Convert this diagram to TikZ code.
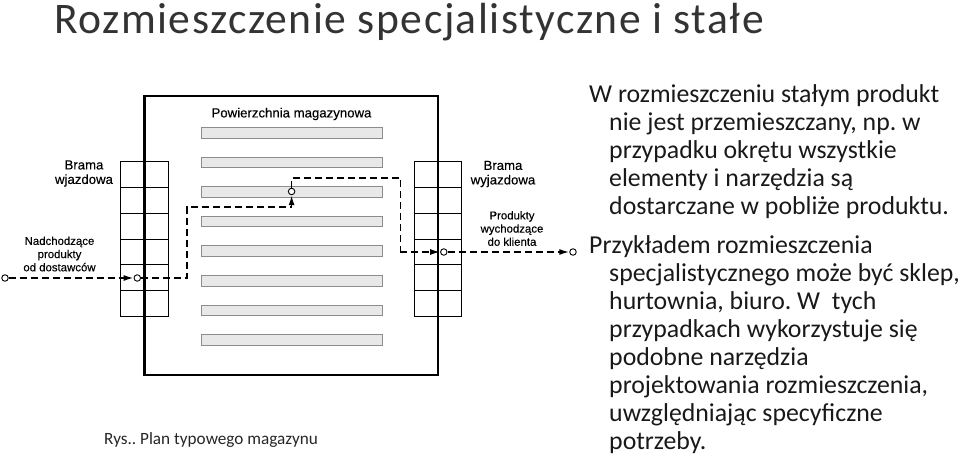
\documentclass[tikz,border=0pt]{standalone}
\usepackage{fontspec}
\setmainfont{Carlito}
\newfontfamily\labelfont[FakeBold=0.25]{Liberation Sans}
\newfontfamily\titlefont[LetterSpace=3.45]{Carlito}
\usetikzlibrary{arrows.meta}
\frenchspacing
\definecolor{rackfill}{gray}{0.91}
\definecolor{rackline}{gray}{0.55}
\tikzstyle{rack}=[draw=rackline,%
                  fill=rackfill,%
                  rectangle,%
                  line width=1pt,%
                  minimum width=181pt,%
                  minimum height=10.5pt,%
                  node distance=29.6pt]
\tikzstyle{cell}=[draw,rectangle,line width=1pt,minimum width=47.5pt,minimum height=25.7pt,node distance=25.7pt]
\tikzstyle{port}=[draw,fill=white,circle,line width=0.9pt,inner sep=0pt,minimum size=6.5pt]
\tikzstyle{label}=[font=\labelfont\fontsize{13.2}{14.5}\selectfont,align=center,inner sep=0pt]
\tikzstyle{smalllabel}=[font=\labelfont\fontsize{11.4}{13.2}\selectfont,align=center,inner sep=0pt]
\tikzstyle{para}=[font=\fontsize{25.8}{28}\selectfont,align=left,anchor=north west,inner sep=0pt,text=black!90]
\tikzstyle{flow}=[dash pattern=on 7pt off 4pt,line width=1.6pt]
\tikzstyle{flowarrow}=[flow,-{Latex[length=10pt,width=6pt]}]
\begin{document}
\begin{tikzpicture}[x=1pt,y=-1pt]
            \useasboundingbox (0,0) rectangle (960,454);
            \node[font=\titlefont\fontsize{43.6}{48}\selectfont,anchor=base west,inner sep=0pt,text=black!80] (title) at (54,33.5) {Rozmieszczenie specjalistyczne i stałe};
            % racks
            \node[rack] (r1) at (291.5,132.8) {};
            \node[rack][below of=r1] (r2) {};
            \node[rack][below of=r2] (r3) {};
            \node[rack][below of=r3] (r4) {};
            \node[rack][below of=r4] (r5) {};
            \node[rack][below of=r5] (r6) {};
            \node[rack][below of=r6] (r7) {};
            \node[rack][below of=r7] (r8) {};
            % gates
            \node[cell] (g1) at (144.5,174.8) {};
            \node[cell][below of=g1] (g2) {};
            \node[cell][below of=g2] (g3) {};
            \node[cell][below of=g3] (g4) {};
            \node[cell][below of=g4] (g5) {};
            \node[cell][below of=g5] (g6) {};
            \node[cell] (h1) at (438,174.8) {};
            \node[cell][below of=h1] (h2) {};
            \node[cell][below of=h2] (h3) {};
            \node[cell][below of=h3] (h4) {};
            \node[cell][below of=h4] (h5) {};
            \node[cell][below of=h5] (h6) {};
            % wall
            \node[draw,rectangle,line width=2.4pt,minimum width=293.5pt,minimum height=279pt] (hall) at (291.3,235.5) {};
            % labels
            \node[label] (surface) at (291.5,114) {Powierzchnia magazynowa};
            \node[label] (gatein) at (84,173.5) {Brama\\wjazdowa};
            \node[label] (gateout) at (503,174) {Brama\\wyjazdowa};
            \node[smalllabel] (goodsin) at (59.5,254) {Nadchodzące\\produkty\\od dostawców};
            \node[smalllabel] (goodsout) at (512,228.5) {Produkty\\wychodzące\\do klienta};
            % ports
            \node[port] (p1) at (5,278) {};
            \node[port] (p2) at (137.3,278) {};
            \node[port] (p3) at (291.6,191.5) {};
            \node[port] (p4) at (443.8,252) {};
            \node[port] (p5) at (573,252) {};
            \coordinate (c1) at (186.8,278);
            \coordinate (c2) at (186.8,207);
            \coordinate (c3) at (291.6,207);
            \coordinate (c4) at (291.6,178);
            \coordinate (c5) at (400.3,178);
            \coordinate (c6) at (400.3,252);
            % flow
            \draw [flowarrow] (p1.east) -- (p2.west);
            \draw [flow] (p2.east) -- (c1) -- (c2) -- (c3);
            \draw [flowarrow] (c3) -- (p3.south);
            \draw [flow] (p3.north) -- (c4) -- (c5) -- (c6);
            \draw [flowarrow] (c6) -- (p4.west);
            \draw [flowarrow] (p4.east) -- (p5.west);
            % caption and text
            \node[font=\fontsize{17.2}{20}\selectfont,anchor=west,inner sep=0pt,text=black!85] (caption) at (104,440) {Rys.. Plan typowego magazynu};
            \node[para] (fixed) at (589,84) {W rozmieszczeniu stałym produkt\\
              \hspace*{20pt}nie jest przemieszczany, np. w\\
              \hspace*{20pt}przypadku okrętu wszystkie\\
              \hspace*{20pt}elementy i narzędzia są\\
              \hspace*{20pt}dostarczane w pobliże produktu.};
            \node[para] (special) at (589,235) {Przykładem rozmieszczenia\\
              \hspace*{20pt}specjalistycznego może być sklep,\\
              \hspace*{20pt}hurtownia, biuro. W\ \ tych\\
              \hspace*{20pt}przypadkach wykorzystuje się\\
              \hspace*{20pt}podobne narzędzia\\
              \hspace*{20pt}projektowania rozmieszczenia,\\
              \hspace*{20pt}uwzględniając specyficzne\\
              \hspace*{20pt}potrzeby.};
\end{tikzpicture}
\end{document}
